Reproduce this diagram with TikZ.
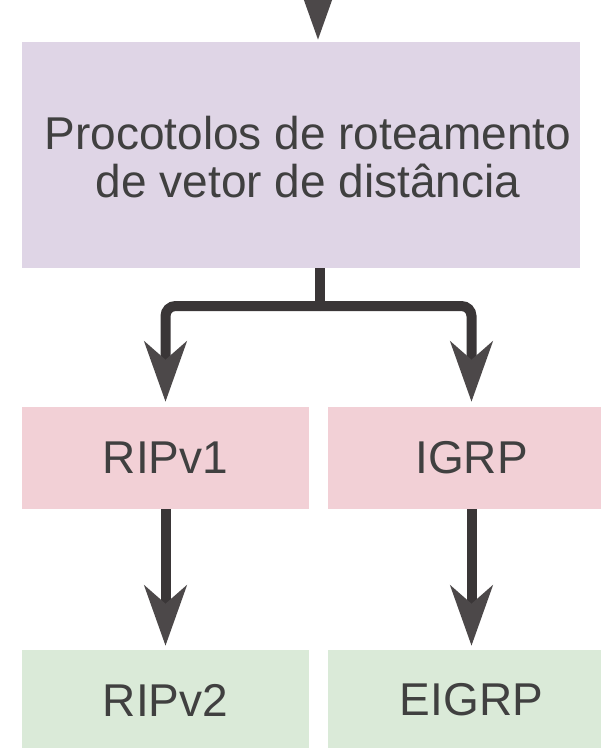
\documentclass[tikz,border=0pt]{standalone}
\usepackage{fontspec}
\setmainfont{Liberation Sans}
\usetikzlibrary{arrows.meta}
\definecolor{purp}{RGB}{223,213,230}
\definecolor{pinkc}{RGB}{242,208,214}
\definecolor{greenc}{RGB}{218,234,216}
\definecolor{linec}{RGB}{58,54,55}
\definecolor{tipc}{RGB}{76,72,73}
\definecolor{txt}{RGB}{64,64,64}
\begin{document}
\begin{tikzpicture}[x=1pt,y=-1pt,
  box/.style={draw=none, text=txt, inner sep=0pt, align=center,
    font=\fontsize{46}{48}\selectfont},
  conn/.style={line width=10pt, draw=linec,
    -{Stealth[length=60pt,width=42pt,inset=18pt,color=tipc]}},
  bar/.style={line width=10pt, draw=linec}
]
\useasboundingbox (0,0) rectangle (601,748);
\clip (0,0) rectangle (601,748);
\node[box, fill=purp, minimum width=558pt, minimum height=226pt] (dv) at (301,155) {};
\node[box] (dvtext) at (308,157) {Procotolos de roteamento\\de vetor de distância};
\node[box, fill=pinkc, minimum width=287pt, minimum height=102pt] (r1) at (165.5,458) {RIPv1};
\node[box, fill=pinkc, minimum width=287pt, minimum height=102pt] (ig) at (471.5,458) {IGRP};
\node[box, fill=greenc, minimum width=287pt, minimum height=100pt] (r2) at (165.5,700) {RIPv2};
\node[box, fill=greenc, minimum width=287pt, minimum height=100pt] (eig) at (471.5,700) {EIGRP};
\coordinate (top) at (318,-25);
\coordinate (j) at (320,306);
\draw[conn, shorten >=2pt] (top) -- (top |- dv.north);
\draw[bar] (j |- dv.south) -- (j);
\draw[conn, rounded corners=10pt, shorten >=5pt] (j) -| (r1.north);
\draw[conn, rounded corners=10pt, shorten >=5pt] (j) -| (ig.north);
\draw[conn, shorten >=4pt] (r1.south) -- (r2.north);
\draw[conn, shorten >=4pt] (ig.south) -- (eig.north);
\end{tikzpicture}
\end{document}
